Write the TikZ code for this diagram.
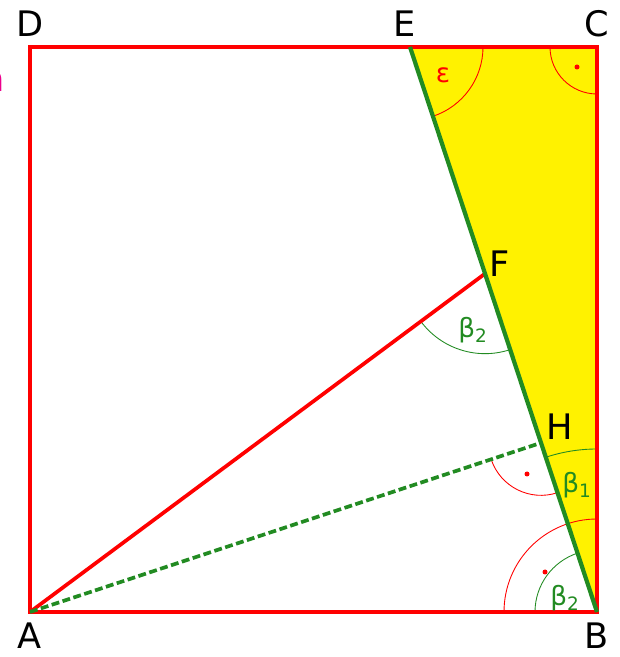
\documentclass[tikz,border=0pt]{standalone}
\usepackage{fontspec}
\setmainfont{DejaVu Sans}
\usetikzlibrary{angles,calc}
\definecolor{lgreen}{RGB}{34,139,34}
\tikzset{
  pt/.style={font=\fontsize{20}{20}\selectfont},
  ang/.style={font=\fontsize{15}{15}\selectfont},
  thinarc/.style={draw, line width=0.5pt},
}
\begin{document}
\begin{tikzpicture}
  \useasboundingbox (0,0) rectangle (12.38,13.14);
  \coordinate (A) at (0.6,0.9);
  \coordinate (B) at (11.94,0.9);
  \coordinate (C) at (11.94,12.2);
  \coordinate (D) at (0.6,12.2);
  \coordinate (E) at (8.2,12.2);
  \coordinate (H) at ($(E)!(A)!(B)$);
  \coordinate (F) at ($(B)!2!(H)$);
  \fill[yellow] (E) -- (C) -- (B) -- cycle;
  % angle marks
  \pic[thinarc, red, angle radius=1.46cm] {angle = B--E--C};
  \pic[thinarc, red, angle radius=0.94cm] {angle = D--C--B};
  \pic[thinarc, lgreen, angle radius=1.6cm] {angle = A--F--B};
  \pic[thinarc, red, angle radius=1.05cm] {angle = A--H--B};
  \pic[thinarc, red, angle radius=1.86cm] {angle = C--B--A};
  \pic[thinarc, lgreen, angle radius=1.24cm] {angle = E--B--A};
  \pic[thinarc, lgreen, angle radius=3.26cm] {angle = C--B--E};
  \fill[red] (11.54,11.8) circle (0.05);
  \fill[red] (10.54,3.66) circle (0.05);
  \fill[red] (10.9,1.7) circle (0.05);
  % sides and lines
  \draw[red, line width=2.6pt] (A) -- (B) -- (C) -- (D) -- cycle;
  \draw[red, line width=2.1pt] (A) -- (F);
  \draw[lgreen, line width=2.1pt, dash pattern=on 4.5pt off 2pt] (A) -- (H);
  \draw[lgreen, line width=2.4pt] (E) -- (B);
  % labels
  \node[pt] (lA) at (0.6,0.42) {A};
  \node[pt] (lB) at (11.94,0.42) {B};
  \node[pt] (lC) at (11.94,12.66) {C};
  \node[pt] (lD) at (0.6,12.66) {D};
  \node[pt] (lE) at (8.1,12.66) {E};
  \node[pt] (lF) at (10.0,7.86) {F};
  \node[pt] (lH) at (11.2,4.6) {H};
  \node[pt, magenta, anchor=east, inner sep=0pt] (cut) at (0.1,11.5) {n};
  \node[ang, red] (eps) at (8.86,11.64) {ε};
  \node[ang, lgreen] (bF) at (9.46,6.54) {β\textsubscript{2}};
  \node[ang, lgreen] (bH) at (11.54,3.44) {β\textsubscript{1}};
  \node[ang, lgreen] (bB) at (11.3,1.18) {β\textsubscript{2}};
\end{tikzpicture}
\end{document}
